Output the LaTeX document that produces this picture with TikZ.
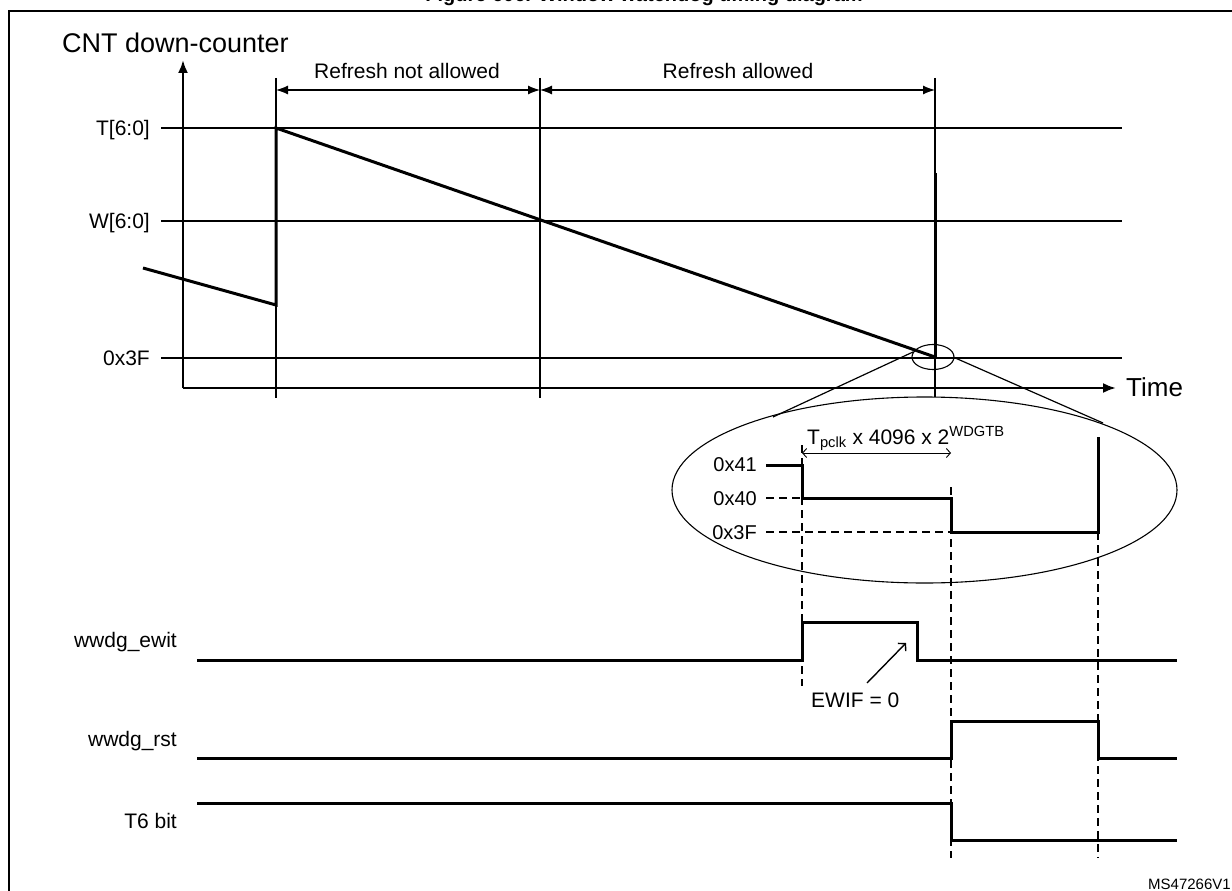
\documentclass[tikz,border=0pt]{standalone}
\usepackage{fontspec}
\setmainfont{Liberation Sans}
\usetikzlibrary{arrows.meta,calc,shapes.geometric}
\begin{document}
\begin{tikzpicture}[x=1pt,y=-1pt,
  thin line/.style={line width=1.2pt},
  wave/.style={line width=3pt,line join=miter},
  axis/.style={line width=2.3pt,-{Latex[length=13,width=10]}},
  dim/.style={line width=1.2pt,{Latex[length=12,width=9]}-{Latex[length=12,width=9]}},
  odim/.style={line width=0.9pt,{Straight Barb[length=4,width=9]}-{Straight Barb[length=4,width=9]}},
  guide/.style={line width=1.3pt,dash pattern=on 8pt off 5pt},
  lbl/.style={font=\fontsize{21}{23}\selectfont,inner sep=0pt},
  zlbl/.style={font=\fontsize{20}{22}\selectfont,inner sep=0pt,anchor=base east},
  siglbl/.style={font=\fontsize{21}{23}\selectfont,inner sep=0pt,anchor=base east},
  zoomell/.style={draw,line width=1.1pt,ellipse,inner sep=0pt},
]
\useasboundingbox (0,0) rectangle (1232,891);
% frame and title
\draw[line width=2.6pt] (9,1000) -- (9,11) -- (1300,11);
\node[font=\bfseries\fontsize{20}{22}\selectfont,anchor=base,inner sep=0pt] (title) at (644,2) {Figure 606. Window watchdog timing diagram};

% axes
\coordinate (O) at (183,388);
\coordinate (ytip) at (183,60);
\coordinate (xtip) at (1116,388);
\draw[axis] (O) -- (ytip);
\draw[axis] (O) -- (xtip);
\node[font=\fontsize{27}{29}\selectfont,anchor=base west,inner sep=0pt] (cnt) at (62,53) {CNT down-counter};
\node[font=\fontsize{26}{28}\selectfont,anchor=base west,inner sep=0pt] (time) at (1126,396) {Time};

% level lines
\foreach \yy/\nm/\txt in {128/T/{T[6:0]},221/W/{W[6:0]},358/F/{0x3F}}{
  \node[lbl,anchor=base east] (lv\nm) at (150,\yy+7) {\txt};
  \coordinate (l\nm a) at (161,\yy);
  \coordinate (l\nm b) at (1122,\yy);
  \draw[thin line] (l\nm a) -- (l\nm b);
}
% vertical markers
\coordinate (v1t) at (276,78); \coordinate (v1b) at (276,398);
\coordinate (v2t) at (540,78); \coordinate (v2b) at (540,398);
\coordinate (v3t) at (935,78); \coordinate (v3b) at (935,397);
\draw[thin line] (v1t) -- (v1b);
\draw[thin line] (v2t) -- (v2b);
\draw[thin line] (v3t) -- (v3b);
\coordinate (a1) at (276,90); \coordinate (a2) at (540,90); \coordinate (a3) at (935,90);
\draw[dim] (a1) -- (a2);
\draw[dim] (a2) -- (a3);
\node[lbl,anchor=base] (rna) at (407,78) {Refresh not allowed};
\node[lbl,anchor=base] (ra) at (738,78) {Refresh allowed};

% counter waveform
\coordinate (c0) at (143,268);
\coordinate (c1) at (276,305);
\coordinate (c2) at (276,128);
\coordinate (c3) at (935,357);
\coordinate (c4) at (935,173);
\draw[wave] (c0) -- (c1) -- (c2) -- (c3);
\draw[wave] (c3) -- (c4);

% zoom ellipses
\node[zoomell,minimum width=42,minimum height=25] (zs) at (933,357) {};
\node[zoomell,minimum width=505,minimum height=186] (zb) at (924.5,490) {};
\coordinate (zl1) at (913,352); \coordinate (zl2) at (773,417);
\coordinate (zr1) at (953,357); \coordinate (zr2) at (1103,423);
\draw[thin line] (zl1) -- (zl2);
\draw[thin line] (zr1) -- (zr2);

% zoomed detail
\node[zlbl] (z41) at (757,471) {0x41};
\node[zlbl] (z40) at (757,505) {0x40};
\node[zlbl] (z3f) at (757,539) {0x3F};
\coordinate (d1) at (766,465);
\coordinate (d2) at (802,465);
\coordinate (d3) at (802,498);
\coordinate (d4) at (951,498);
\coordinate (d5) at (951,532);
\coordinate (d6) at (1098,532);
\coordinate (d7) at (1098,437);
\draw[wave] (d1) -- (d2) -- (d3) -- (d4) -- (d5) -- (d6) -- (d7);
\coordinate (g40) at (766,498);
\coordinate (g3f) at (766,532);
\draw[guide] (g40) -- (d3);
\draw[guide] (g3f) -- (d5);
\coordinate (t1) at (802,453); \coordinate (t2) at (951,453);
\draw[odim] (t1) -- (t2);
\node[font=\fontsize{21}{23}\selectfont,anchor=base west,inner sep=0pt] (tp) at (807,444) {T\textsubscript{pclk} x 4096 x 2\textsuperscript{WDGTB}};

% vertical dashed guides
\coordinate (vd1t) at (802,445); \coordinate (vd1b) at (802,686);
\coordinate (vd2t) at (951,487); \coordinate (vd2b) at (951,858);
\coordinate (vd3t) at (1098,532); \coordinate (vd3b) at (1098,858);
\draw[guide] (vd1t) -- (vd1b);
\draw[guide] (vd2t) -- (vd2b);
\draw[guide] (vd3t) -- (vd3b);

% signals
\node[siglbl] (sew) at (177,647) {wwdg\_ewit};
\node[siglbl] (srst) at (177,746) {wwdg\_rst};
\node[siglbl] (st6) at (177,828) {T6 bit};
\draw[wave] (197,660) -- (802,660) -- (802,622) -- (917,622) -- (917,660) -- (1177,660);
\draw[wave] (197,758) -- (951,758) -- (951,721) -- (1098,721) -- (1098,758) -- (1177,758);
\draw[wave] (197,803) -- (951,803) -- (951,840) -- (1177,840);

% EWIF annotation
\coordinate (e1) at (867,683); \coordinate (e2) at (906,643);
\draw[line width=1.4pt,-{Straight Barb[length=5,width=11]}] (e1) -- (e2);
\node[font=\fontsize{21}{23}\selectfont,anchor=base west,inner sep=0pt] (ewif) at (811,707) {EWIF = 0};

\node[font=\fontsize{15}{17}\selectfont,anchor=base west,inner sep=0pt] (ms) at (1148,889) {MS47266V1};
\end{tikzpicture}
\end{document}
